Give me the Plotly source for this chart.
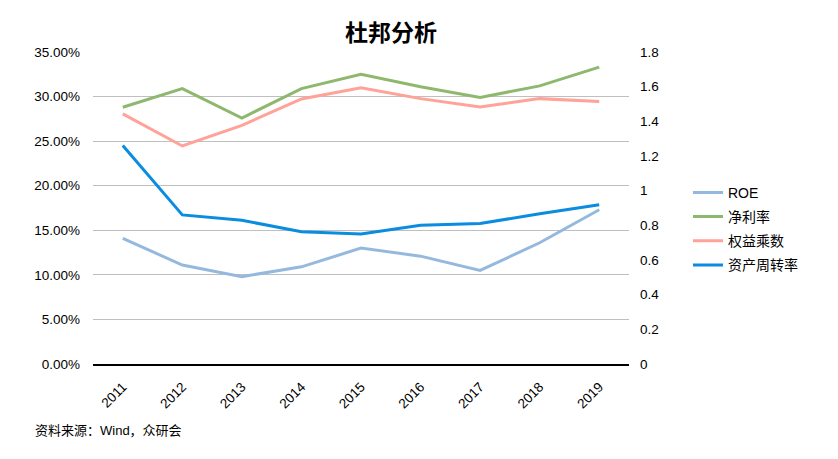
import plotly.graph_objects as go

years = ["2011", "2012", "2013", "2014", "2015", "2016", "2017", "2018", "2019"]
roe = [0.141, 0.111, 0.098, 0.109, 0.130, 0.121, 0.105, 0.136, 0.173]
net_margin = [0.288, 0.309, 0.276, 0.309, 0.325, 0.311, 0.299, 0.312, 0.333]
equity_mult = [1.443, 1.258, 1.377, 1.529, 1.593, 1.531, 1.483, 1.531, 1.514]
asset_turn = [1.26, 0.86, 0.829, 0.763, 0.750, 0.80, 0.81, 0.867, 0.919]

names = ["ROE", "净利率", "权益乘数", "资产周转率"]
colors = ["#95B9DE", "#8EB86E", "#FFA298", "#0A8CE0"]

FONT = "Liberation Sans, Arial, Noto Sans CJK SC, sans-serif"

# page body has an 8px margin; figure coordinates = page coordinates - 8
W, H = 830, 451
L, T = 85, 44
PW, PH = 536, 312

fig = go.Figure()
series = [(roe, "y"), (net_margin, "y"), (equity_mult, "y2"), (asset_turn, "y2")]
for (vals, ax), nm, c in zip(series, names, colors):
    fig.add_trace(go.Scatter(x=years, y=vals, name=nm, yaxis=ax, mode="lines",
                             line=dict(color=c, width=3), legendgroup=nm))

fig.update_layout(
    width=W, height=H,
    margin=dict(l=L, r=W - L - PW, t=T, b=H - T - PH),
    paper_bgcolor="white", plot_bgcolor="white",
    font=dict(family=FONT, size=13, color="#000000"),
    title=dict(text="<b>杜邦分析</b>", x=(391 - 8) / W, xref="container", xanchor="center",
               y=1 - (33 - 8) / H, yref="container", yanchor="middle",
               font=dict(family="Noto Sans CJK SC, sans-serif", size=23, color="#000000")),
    xaxis=dict(type="category", range=[-0.5, 8.5], tickangle=-45, showgrid=False,
               showline=True, linecolor="#000000", linewidth=1.5, ticks="",
               tickfont=dict(size=13.5), ticklabelstandoff=8),
    yaxis=dict(range=[0, 0.35], dtick=0.05, tickformat=".2%", showgrid=True,
               gridcolor="#BFBFBF", gridwidth=1, zeroline=False, showline=False,
               ticks="", tickfont=dict(size=13.5), ticklabelstandoff=12),
    yaxis2=dict(range=[0, 1.8], dtick=0.2, overlaying="y", side="right", showgrid=False,
                zeroline=False, showline=False, ticks="", tickfont=dict(size=13.5),
                ticklabelstandoff=10),
    legend=dict(x=(688 - 8 - L) / PW, xanchor="left", y=0.60, yanchor="top",
                font=dict(family=FONT, size=14),
                tracegroupgap=3, itemwidth=30, bgcolor="rgba(0,0,0,0)"),
    showlegend=True,
)

fig.add_annotation(text="资料来源：Wind，众研会", xref="paper", yref="paper",
                   x=(33 - 8 - L) / PW, y=-(431 - 364.3) / PH, xanchor="left", yanchor="middle",
                   showarrow=False, font=dict(size=13, color="#000000"))

fig.write_html("out.html")
